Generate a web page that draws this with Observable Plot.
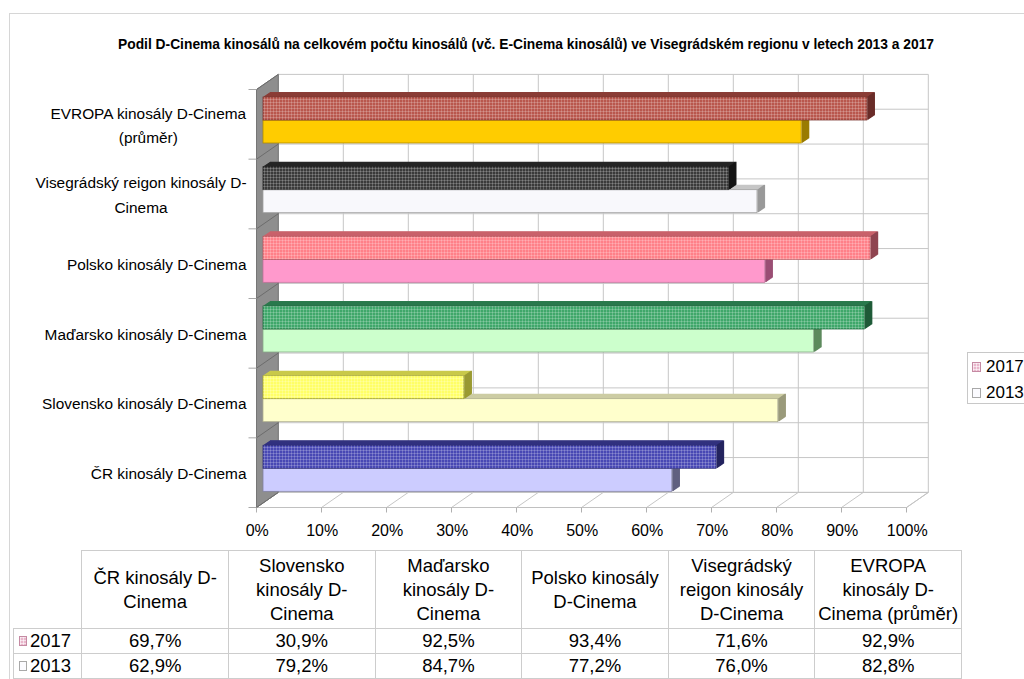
<!DOCTYPE html>
<html>
<head>
<meta charset="utf-8">
<script src="https://cdn.jsdelivr.net/npm/d3@7"></script>
<script src="https://cdn.jsdelivr.net/npm/@observablehq/plot@0.6"></script>
<style>
html, body { margin: 0; padding: 0; background: #fff; overflow: hidden; width: 1024px; height: 679px; }
body { position: relative; font-family: "Liberation Sans", Arial, sans-serif; color: #000; }
#frame { position: absolute; left: 9px; top: 13px; width: 1100px; height: 700px; border-left: 1px solid #d6d6d6; border-top: 1px solid #d6d6d6; }
#title { position: absolute; top: 36px; left: 0; white-space: nowrap; font-weight: bold; font-size: 14px; line-height: 16px; transform-origin: 0 0; }
#chart { position: absolute; left: 0; top: 0; }
#legend { position: absolute; left: 967px; top: 352px; width: 90px; height: 50px; border: 1px solid #c8c8c8; background: #fff; font-size: 17px; }
#legend .item { position: absolute; left: 4px; height: 22px; line-height: 22px; white-space: nowrap; }
#legend .sw { margin-right: 5px; }
.sw { display: inline-block; width: 7px; height: 8px; vertical-align: middle; margin-right: 8px; position: relative; top: -1px; }
.sw17 { background-color: #e9b6cb; background-image: linear-gradient(rgba(255,255,255,.55) 1px, transparent 1px), linear-gradient(90deg, rgba(255,255,255,.55) 1px, transparent 1px); background-size: 3px 3px; border: 1px solid #c58aa3; }
.sw13 { background: #fbfbff; border: 1px solid #a8a8a8; }
#tbl { position: absolute; left: 13px; top: 550px; border-collapse: collapse; table-layout: fixed; font-size: 18.5px; }
#tbl td, #tbl th { border: 1px solid #cdcdcd; padding: 0; text-align: center; font-weight: normal; }
#tbl th { height: 77px; line-height: 24px; vertical-align: middle; }
#tbl td { height: 24px; line-height: 24px; }
#tbl td.blank { border-top: none; border-left: none; }
#tbl td.key { text-align: left; padding-left: 5px; }
#tbl td.key .sw { margin-right: 3px; width: 6px; height: 8px; }
</style>
</head>
<body>
<svg width="0" height="0" style="position:absolute">
  <defs>
    <pattern id="grid" width="3" height="3" patternUnits="userSpaceOnUse">
      <path d="M0,0.5H3M0.5,0V3" stroke="#ffffff" stroke-opacity="0.2" stroke-width="1" fill="none"/>
    </pattern>
  </defs>
</svg>
<div id="frame"></div>
<div id="chart"></div>
<div id="title">Podil D-Cinema kinosálů na celkovém počtu kinosálů (vč. E-Cinema kinosálů) ve Visegrádském regionu v letech 2013 a 2017</div>
<div id="legend">
  <div class="item" style="top:3px"><span class="sw sw17"></span>2017</div>
  <div class="item" style="top:29px"><span class="sw sw13"></span>2013</div>
</div>
<table id="tbl"></table>
<script>
// ---------- data ----------
const categories = [
  "ČR kinosály D-Cinema",
  "Slovensko kinosály D-Cinema",
  "Maďarsko kinosály D-Cinema",
  "Polsko kinosály D-Cinema",
  "Visegrádský reigon kinosály D-Cinema",
  "EVROPA kinosály D-Cinema (průměr)"
];
const chartLabels = [
  "ČR kinosály D-Cinema",
  "Slovensko kinosály D-Cinema",
  "Maďarsko kinosály D-Cinema",
  "Polsko kinosály D-Cinema",
  "Visegrádský reigon kinosály D-\nCinema",
  "EVROPA kinosály D-Cinema\n(průměr)"
];
const tableHeaders = [
  "ČR kinosály D-\nCinema",
  "Slovensko\nkinosály D-\nCinema",
  "Maďarsko\nkinosály D-\nCinema",
  "Polsko kinosály\nD-Cinema",
  "Visegrádský\nreigon kinosály\nD-Cinema",
  "EVROPA\nkinosály D-\nCinema (průměr)"
];
const years = ["2017", "2013"];
const values2017 = [69.7, 30.9, 92.5, 93.4, 71.6, 92.9];
const values2013 = [62.9, 79.2, 84.7, 77.2, 76.0, 82.8];
const xTicks = [0, 10, 20, 30, 40, 50, 60, 70, 80, 90, 100];

// ---------- styles ----------
const front17 = ["#4848b4", "#ffff66", "#3fa76a", "#ff8088", "#3a3a3a", "#b9574d"];
const top17   = ["#32327f", "#c9c94a", "#2b7a4c", "#c9626b", "#262626", "#8a3d37"];
const side17  = ["#252560", "#9a9a32", "#1e5a37", "#8f4450", "#161616", "#6a2c28"];
const edge17  = ["#2e2e7a", "#a3a336", "#246b42", "#b55b63", "#222222", "#7c3530"];
const front13 = ["#ccccff", "#ffffcc", "#ccffcc", "#ff99cc", "#f8f8fc", "#ffcc00"];
const top13   = ["#a3a3cc", "#cccca3", "#a3cca3", "#cc7aa3", "#c6c6c6", "#cca300"];
const side13  = ["#5f5f80", "#9a9a7a", "#5e8a5e", "#9a4e74", "#9a9a9a", "#997a00"];
const edge13  = ["#8080a0", "#b0b090", "#88aa88", "#c07099", "#a0a0a0", "#b08c00"];

const FRONT = [-6.5, 4.5];   // floor front edge offset (px)
const BACK = [15.3, -10.6];  // back wall offset (px)
const R = 10.6 / 15.3;       // depth slope
const BAR_DEPTH = 7;
const FONT = "'Liberation Sans', Arial, sans-serif";
const LABEL_SIZE = 15.4;

const rows17 = categories.map((c, i) => ({i, c, v: values2017[i], front: front17[i], topc: top17[i], sidec: side17[i], edgec: edge17[i]}));
const rows13 = categories.map((c, i) => ({i, c, v: values2013[i], front: front13[i], topc: top13[i], sidec: side13[i], edgec: edge13[i]}));

// ---------- 3D frame (walls, floor, gridlines) drawn through the plot scales ----------
function frame3d(index, scales) {
  const X = scales.x, Y = scales.y;
  const n = categories.length;
  const g = d3.create("svg:g");
  const P = (px, py, o) => [px + o[0], py + o[1]];
  const x0 = X(0), x1 = X(100), yb = Y(0), yt = Y(n);
  const line = (a, b, color, w = 1) => g.append("line")
    .attr("x1", a[0]).attr("y1", a[1]).attr("x2", b[0]).attr("y2", b[1])
    .attr("stroke", color).attr("stroke-width", w);
  // back wall horizontal gridlines
  for (let k = 0; k <= 2 * n; k++) {
    const yy = Y(k / 2);
    line(P(x0, yy, BACK), P(x1, yy, BACK), "#c6c6c6");
  }
  // back wall vertical gridlines
  for (const t of xTicks) line(P(X(t), yb, BACK), P(X(t), yt, BACK), "#c6c6c6");
  // floor
  g.append("path")
    .attr("d", "M" + [P(x0, yb, FRONT), P(x1, yb, FRONT), P(x1, yb, BACK), P(x0, yb, BACK)].join("L") + "Z")
    .attr("fill", "#fff").attr("stroke", "#c0c0c0");
  for (const t of xTicks) {
    const a = P(X(t), yb, FRONT);
    line(a, P(X(t), yb, BACK), "#c6c6c6");
    line(a, [a[0], a[1] + 5], "#b0b0b0");
  }
  // left wall
  g.append("path")
    .attr("d", "M" + [P(x0, yt, FRONT), P(x0, yt, BACK), P(x0, yb, BACK), P(x0, yb, FRONT)].join("L") + "Z")
    .attr("fill", "#8e8e8e").attr("stroke", "#767676");
  for (let j = 0; j <= n; j++) {
    const a = P(x0, Y(j), FRONT);
    line(a, P(x0, Y(j), BACK), "#6c6c6c");
    line([a[0] - 8, a[1]], a, "#a8a8a8");
  }
  return g.node();
}

// ---------- 3D bars ----------
const ks = d3.range(0.5, BAR_DEPTH + 0.01, 0.5);
function barMarks(rows, lo, hi, pattern) {
  const out = [];
  for (const k of ks) out.push(Plot.ruleY(rows, {y: d => d.i + hi, x1: () => 0, x2: "v", stroke: "topc", strokeWidth: 1.2, dx: k, dy: -k * R}));
  for (const k of ks) out.push(Plot.ruleX(rows, {x: "v", y1: d => d.i + lo, y2: d => d.i + hi, stroke: "sidec", strokeWidth: 1.2, dx: k, dy: -k * R}));
  out.push(Plot.rect(rows, {x1: () => 0, x2: "v", y1: d => d.i + lo, y2: d => d.i + hi, fill: "front", stroke: "edgec", strokeWidth: 0.8}));
  if (pattern) out.push(Plot.rect(rows, {x1: () => 0, x2: "v", y1: d => d.i + lo, y2: d => d.i + hi, fill: "url(#grid)"}));
  return out;
}

// ---------- labels ----------
const labelRows = chartLabels.map((label, i) => ({i, label}));
const single = labelRows.filter(d => !d.label.includes("\n"));
const multi = labelRows.filter(d => d.label.includes("\n"));
const ctx = document.createElement("canvas").getContext("2d");
ctx.font = LABEL_SIZE + "px " + FONT;
const multiMarks = multi.map(d => {
  const w = d3.max(d.label.split("\n"), s => ctx.measureText(s).width);
  return Plot.text([d], {frameAnchor: "left", y: r => r.i + 0.5, text: "label", textAnchor: "middle",
    dx: -17 - w / 2, dy: 2.8, lineHeight: 1.57, fontSize: LABEL_SIZE, fill: "#000"});
});

const chart = Plot.plot({
  width: 1024,
  height: 545,
  marginLeft: 263,
  marginRight: 111,
  marginTop: 85,
  marginBottom: 42,
  x: {domain: [0, 100], axis: null},
  y: {domain: [0, categories.length], axis: null},
  color: {type: "identity"},
  style: {fontFamily: FONT, background: "transparent", overflow: "visible"},
  marks: [
    frame3d,
    ...barMarks(rows13, 0.1675, 0.4976, false),
    ...barMarks(rows17, 0.4976, 0.828, true),
    Plot.text(xTicks, {x: d => d, frameAnchor: "bottom", text: d => d + "%", dx: -6.3, dy: 32.5, fontSize: 16, fill: "#000"}),
    Plot.text(single, {frameAnchor: "left", y: d => d.i + 0.5, text: "label", textAnchor: "end", dx: -17, dy: 5.5, fontSize: LABEL_SIZE, fill: "#000"}),
    ...multiMarks
  ]
});
document.getElementById("chart").appendChild(chart);

// ---------- title fit ----------
const title = document.getElementById("title");
const tw = title.getBoundingClientRect().width;
const targetW = 816;
title.style.left = (525.7 - targetW / 2) + "px";
title.style.transform = `scaleX(${targetW / tw})`;

// ---------- data table ----------
const fmt = v => v.toFixed(1).replace(".", ",") + "%";
const tbl = d3.select("#tbl");
const cg = tbl.append("colgroup");
cg.append("col").style("width", "68.4px");
categories.forEach(() => cg.append("col").style("width", "146.6px"));
const hr = tbl.append("tr");
hr.append("td").attr("class", "blank");
tableHeaders.forEach(h => hr.append("th").html(h.split("\n").join("<br>")));
[values2017, values2013].forEach((vals, yi) => {
  const tr = tbl.append("tr");
  const key = tr.append("td").attr("class", "key");
  key.append("span").attr("class", "sw " + (yi === 0 ? "sw17" : "sw13"));
  key.append("span").text(years[yi]);
  vals.forEach(v => tr.append("td").text(fmt(v)));
});
</script>
</body>
</html>
